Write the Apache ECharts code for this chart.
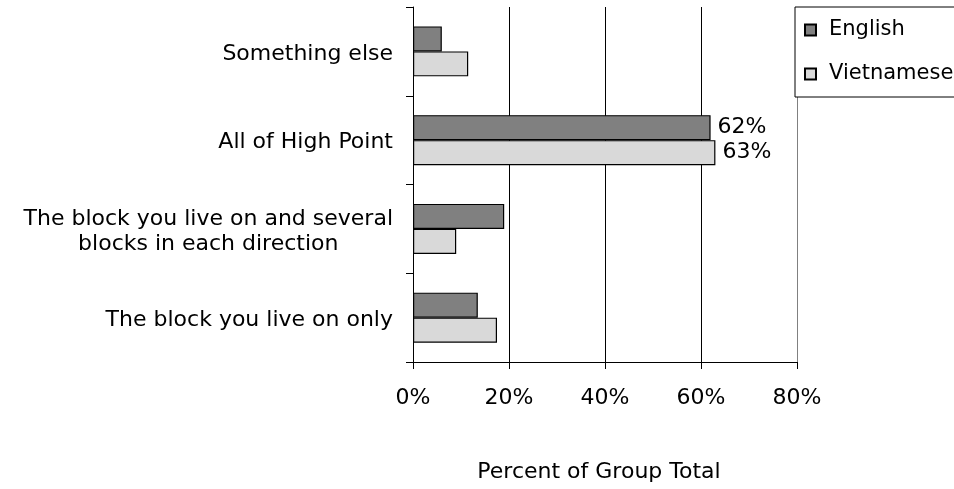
<!DOCTYPE html>
<html>
<head>
<meta charset="utf-8">
<script src="https://cdn.jsdelivr.net/npm/echarts@6/dist/echarts.min.js"></script>
<style>
  html, body { margin: 0; padding: 0; background: #fff; }
  #main { width: 954px; height: 489px; }
</style>
</head>
<body>
<div id="main"></div>
<script>
// categories listed top to bottom (y axis is inverted)
var categories = [
    'Something else',
    'All of High Point',
    'The block you live on and several\nblocks in each direction',
    'The block you live on only'
];
var englishValues = [6, 62, 19, 13.5];
var vietnameseValues = [11.5, 63, 9, 17.5];
// only these categories carry a value label
var labelled = ['All of High Point'];
var xTicks = [0, 20, 40, 60, 80];

var FONT = 'DejaVu Sans';

function buildData(values) {
    return values.map(function (v, i) {
        return {
            value: v,
            label: { show: labelled.indexOf(categories[i]) >= 0 }
        };
    });
}

// centre each line of a wrapped category label under the longest one
function centreLines(text) {
    return text.split('\n').map(function (line) {
        return '{c|' + line + '}';
    }).join('\n');
}

var chart = echarts.init(document.getElementById('main'));

var option = {
    backgroundColor: '#fff',
    animation: false,
    textStyle: { fontFamily: FONT, color: '#000' },
    grid: {
        left: 413,
        right: 157,
        top: 7,
        bottom: 127,
        containLabel: false
    },
    legend: {
        orient: 'vertical',
        left: 795,
        top: 7,
        data: ['English', 'Vietnamese'],
        icon: 'rect',
        backgroundColor: '#fff',
        borderColor: '#000',
        borderWidth: 1,
        padding: [12, 12, 12, 9],
        itemWidth: 11,
        itemHeight: 11,
        itemGap: 22,
        textStyle: {
            fontFamily: FONT,
            fontSize: 21,
            color: '#000',
            lineHeight: 22,
            padding: [0, 0, 0, 8]
        }
    },
    xAxis: {
        type: 'value',
        min: xTicks[0],
        max: xTicks[xTicks.length - 1],
        interval: 20,
        name: 'Percent of Group Total',
        nameLocation: 'middle',
        nameGap: 99,
        nameTextStyle: { fontFamily: FONT, fontSize: 22, color: '#000', padding: [0, 12, 0, 0] },
        axisLine: { show: true, lineStyle: { color: '#000', width: 1 } },
        axisTick: { show: true, length: 7, lineStyle: { color: '#000' } },
        axisLabel: {
            formatter: '{value}%',
            fontFamily: FONT,
            fontSize: 22,
            color: '#000',
            margin: 25
        },
        splitLine: {
            show: true,
            lineStyle: { color: ['#000', '#000', '#000', '#000', '#808080'], width: 1 }
        }
    },
    yAxis: {
        type: 'category',
        inverse: true,
        data: categories,
        axisLine: { show: true, lineStyle: { color: '#000', width: 1 } },
        axisTick: { show: true, length: 7, lineStyle: { color: '#000' } },
        axisLabel: {
            fontFamily: FONT,
            fontSize: 22,
            color: '#000',
            margin: 20,
            lineHeight: 25,
            align: 'right',
            padding: [5, 0, 0, 0],
            formatter: centreLines,
            rich: {
                c: { fontFamily: FONT, fontSize: 22, color: '#000', lineHeight: 25, align: 'center' }
            }
        }
    },
    series: [
        {
            name: 'English',
            type: 'bar',
            barWidth: 25,
            barGap: '0%',
            data: buildData(englishValues),
            itemStyle: { color: '#808080', borderColor: '#000', borderWidth: 1.2 },
            label: {
                position: 'right',
                distance: 7,
                formatter: '{c}%',
                fontFamily: FONT,
                fontSize: 22,
                color: '#000'
            }
        },
        {
            name: 'Vietnamese',
            type: 'bar',
            barWidth: 25,
            barGap: '0%',
            data: buildData(vietnameseValues),
            itemStyle: { color: '#d9d9d9', borderColor: '#000', borderWidth: 1.2 },
            label: {
                position: 'right',
                distance: 7,
                formatter: '{c}%',
                fontFamily: FONT,
                fontSize: 22,
                color: '#000'
            }
        }
    ]
};

chart.setOption(option);
</script>
</body>
</html>
